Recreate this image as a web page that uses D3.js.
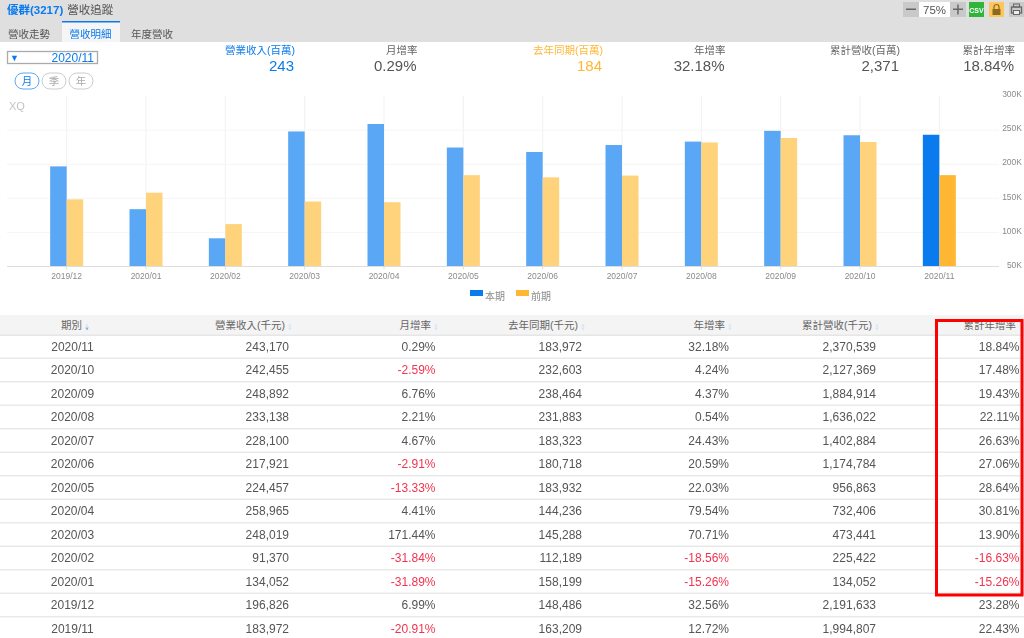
<!DOCTYPE html>
<html>
<head>
<meta charset="utf-8">
<script src="https://cdnjs.cloudflare.com/ajax/libs/d3/7.8.5/d3.min.js"></script>
<style>
  html, body { margin: 0; padding: 0; background: #fff; overflow: hidden; }
  svg { display: block; filter: blur(0.3px); }
  text { font-family: "Liberation Sans", "Noto Sans CJK TC", sans-serif; }
</style>
</head>
<body>
<svg id="page" width="1024" height="638"></svg>
<script>
const periods = ['2020/11', '2020/10', '2020/09', '2020/08', '2020/07', '2020/06', '2020/05', '2020/04', '2020/03', '2020/02', '2020/01', '2019/12', '2019/11'];
const revenue = [243170, 242455, 248892, 233138, 228100, 217921, 224457, 258965, 248019, 91370, 134052, 196826, 183972];
const monthRate = [0.29, -2.59, 6.76, 2.21, 4.67, -2.91, -13.33, 4.41, 171.44, -31.84, -31.89, 6.99, -20.91];
const lastYear = [183972, 232603, 238464, 231883, 183323, 180718, 183932, 144236, 145288, 112189, 158199, 148486, 163209];
const yearRate = [32.18, 4.24, 4.37, 0.54, 24.43, 20.59, 22.03, 79.54, 70.71, -18.56, -15.26, 32.56, 12.72];
const cumRevenue = [2370539, 2127369, 1884914, 1636022, 1402884, 1174784, 956863, 732406, 473441, 225422, 134052, 2191633, 1994807];
const cumRate = [18.84, 17.48, 19.43, 22.11, 26.63, 27.06, 28.64, 30.81, 13.90, -16.63, -15.26, 23.28, 22.43];

const chartMonths = ['2019/12', '2020/01', '2020/02', '2020/03', '2020/04', '2020/05', '2020/06', '2020/07', '2020/08', '2020/09', '2020/10', '2020/11'];
const yTicks = [50000, 100000, 150000, 200000, 250000, 300000];
const seriesKeys = ['本期', '前期'];
const tabs = ['營收走勢', '營收明細', '年度營收'];
const pills = ['月', '季', '年'];
const kpiLabels = ['營業收入(百萬)', '月增率', '去年同期(百萬)', '年增率', '累計營收(百萬)', '累計年增率'];
const kpiValues = ['243', '0.29%', '184', '32.18%', '2,371', '18.84%'];
const tableHeaders = ['期別', '營業收入(千元)', '月增率', '去年同期(千元)', '年增率', '累計營收(千元)', '累計年增率'];

const colors = {
  blue: '#0a7bef',
  blueSoft: '#5aa8f5',
  orange: '#ffb733',
  orangeSoft: '#ffd27c',
  text: '#555',
  muted: '#8a8a8a',
  red: '#f2334f',
  line: '#e9e9e9'
};

const svg = d3.select('#page');
const num = d3.format(',');
const pct = d => d.toFixed(2) + '%';

// top bar
svg.append('rect').attr('width', 1024).attr('height', 42).attr('fill', '#dfdfdf');
const title = svg.append('text').attr('x', 7).attr('y', 14).attr('font-size', 11.5);
title.append('tspan').attr('fill', colors.blue).attr('font-weight', 'bold').text('優群(3217)');
title.append('tspan').attr('fill', colors.text).attr('dx', 4).text('營收追蹤');

const tabX = d3.scalePoint().domain(tabs).range([29, 152]);
svg.append('rect').attr('x', 62).attr('y', 21).attr('width', 58).attr('height', 21).attr('fill', '#f5f5f5');
svg.append('rect').attr('x', 62).attr('y', 21).attr('width', 58).attr('height', 1.5).attr('fill', colors.blue);
svg.selectAll('.tab').data(tabs).join('text')
  .attr('class', 'tab')
  .attr('x', d => tabX(d))
  .attr('y', 38)
  .attr('text-anchor', 'middle')
  .attr('font-size', 10.5)
  .attr('fill', (d, i) => i === 1 ? colors.blue : colors.text)
  .text(d => d);

// zoom + export buttons
svg.append('rect').attr('x', 903).attr('y', 2).attr('width', 63).attr('height', 15).attr('fill', '#c9c9c9');
svg.append('rect').attr('x', 919).attr('y', 2).attr('width', 31).attr('height', 15).attr('fill', '#fff');
svg.append('rect').attr('x', 906).attr('y', 8.5).attr('width', 10).attr('height', 1.5).attr('fill', '#666');
svg.append('rect').attr('x', 953).attr('y', 8.5).attr('width', 10).attr('height', 1.5).attr('fill', '#666');
svg.append('rect').attr('x', 957.2).attr('y', 4.5).attr('width', 1.5).attr('height', 10).attr('fill', '#666');
svg.append('text').attr('x', 934.5).attr('y', 13.5).attr('text-anchor', 'middle').attr('font-size', 11.5).attr('fill', colors.text).text('75%');
svg.append('rect').attr('x', 969).attr('y', 2).attr('width', 15).attr('height', 15).attr('fill', '#2fb53a');
svg.append('text').attr('x', 976.5).attr('y', 12.5).attr('text-anchor', 'middle').attr('font-size', 7).attr('font-weight', 'bold').attr('fill', '#fff').text('CSV');
svg.append('rect').attr('x', 989).attr('y', 2).attr('width', 15).attr('height', 15).attr('fill', '#fdc65c');
svg.append('rect').attr('x', 992.5).attr('y', 9).attr('width', 8).attr('height', 6).attr('fill', '#8a6a1e');
svg.append('path').attr('d', 'M994 9V7a2.5 2.5 0 0 1 5 0v2').attr('fill', 'none').attr('stroke', '#8a6a1e').attr('stroke-width', 1.2);
svg.append('rect').attr('x', 1009).attr('y', 2).attr('width', 15).attr('height', 15).attr('fill', '#c9c9c9');
svg.append('rect').attr('x', 1011.5).attr('y', 7).attr('width', 10).attr('height', 6).attr('fill', 'none').attr('stroke', '#666').attr('stroke-width', 1.3);
svg.append('rect').attr('x', 1013.5).attr('y', 4).attr('width', 6).attr('height', 3).attr('fill', 'none').attr('stroke', '#666').attr('stroke-width', 1);
svg.append('rect').attr('x', 1013.5).attr('y', 10.5).attr('width', 6).attr('height', 4).attr('fill', '#eee').attr('stroke', '#666').attr('stroke-width', 1);

// date selector and period pills
svg.append('rect').attr('x', 7.5).attr('y', 51.5).attr('width', 90).attr('height', 12).attr('fill', '#fff').attr('stroke', '#aaa').attr('stroke-width', 1.3);
svg.append('text').attr('x', 10).attr('y', 61).attr('font-size', 9).attr('fill', colors.blue).text('▼');
svg.append('text').attr('x', 94).attr('y', 62).attr('text-anchor', 'end').attr('font-size', 12).attr('fill', colors.blue).text('2020/11');

const pillX = d3.scalePoint().domain(pills).range([27, 81]);
const pill = svg.selectAll('.pill').data(pills).join('g')
  .attr('class', 'pill')
  .attr('transform', d => `translate(${pillX(d)},81)`);
pill.append('rect')
  .attr('x', -12).attr('y', -8).attr('width', 24).attr('height', 16).attr('rx', 8)
  .attr('fill', '#fff')
  .attr('stroke', (d, i) => i === 0 ? colors.blueSoft : '#ccc');
pill.append('text')
  .attr('y', 4).attr('text-anchor', 'middle').attr('font-size', 10.5)
  .attr('fill', (d, i) => i === 0 ? colors.blue : '#aaa')
  .text(d => d);

// summary figures
const kpiRight = [295, 417.5, 603, 725.5, 900, 1015];
const kpiColor = i => i === 0 ? colors.blue : i === 2 ? colors.orange : colors.text;
kpiLabels.forEach((label, i) => {
  svg.append('text').attr('x', kpiRight[i]).attr('y', 54).attr('text-anchor', 'end')
    .attr('font-size', 10.5).attr('fill', kpiColor(i) === colors.text ? '#666' : kpiColor(i)).text(label);
  svg.append('text').attr('x', kpiRight[i] - 1).attr('y', 71).attr('text-anchor', 'end')
    .attr('font-size', 15).attr('fill', kpiColor(i)).text(kpiValues[i]);
});

// chart
const x = d3.scaleBand().domain(chartMonths).range([27, 979]);
const inner = d3.scaleBand().domain(seriesKeys).range([-16.5, 16.5]);
const y = d3.scaleLinear().domain([50000, 300000]).range([266.5, 96]);

const chartData = chartMonths.map(m => {
  const i = periods.indexOf(m);
  return { month: m, values: [revenue[i], lastYear[i]] };
});

svg.append('text').attr('x', 9).attr('y', 110).attr('font-size', 11).attr('fill', '#c4c4c4').text('XQ');

svg.append('g').selectAll('line').data(chartMonths).join('line')
  .attr('x1', d => x(d) + x.bandwidth() / 2)
  .attr('x2', d => x(d) + x.bandwidth() / 2)
  .attr('y1', 96).attr('y2', 266)
  .attr('stroke', '#f1f1f1');

svg.append('g').selectAll('line').data(yTicks.slice(1, -1)).join('line')
  .attr('x1', 7).attr('x2', 999)
  .attr('y1', d => y(d)).attr('y2', d => y(d))
  .attr('stroke', '#f5f5f5');

const group = svg.append('g').selectAll('g').data(chartData).join('g')
  .attr('transform', d => `translate(${x(d.month) + x.bandwidth() / 2},0)`);
group.selectAll('rect')
  .data((d, i) => d.values.map((v, k) => ({ v, k, latest: i === chartData.length - 1 })))
  .join('rect')
  .attr('x', d => inner(seriesKeys[d.k]))
  .attr('width', inner.bandwidth())
  .attr('y', d => y(d.v))
  .attr('height', d => y(50000) - y(d.v))
  .attr('fill', d => d.k === 0
    ? (d.latest ? colors.blue : colors.blueSoft)
    : (d.latest ? colors.orange : colors.orangeSoft));

const xAxis = svg.append('g')
  .attr('transform', `translate(0,${y(50000)})`)
  .call(d3.axisBottom(x).tickSize(3).tickPadding(3));
xAxis.select('.domain').remove();
xAxis.selectAll('line').attr('stroke', '#ddd');
xAxis.selectAll('text').attr('font-size', 8.5).attr('fill', colors.muted);
svg.append('line').attr('x1', 7).attr('x2', 999).attr('y1', y(50000)).attr('y2', y(50000)).attr('stroke', '#ddd');

const yAxis = svg.append('g')
  .attr('transform', 'translate(1022,-2)')
  .call(d3.axisLeft(y).tickValues(yTicks).tickSize(0).tickPadding(0).tickFormat(d => d / 1000 + 'K'));
yAxis.select('.domain').remove();
yAxis.selectAll('text').attr('font-size', 8.5).attr('fill', colors.muted);

// legend
const legendX = d3.scalePoint().domain(seriesKeys).range([470, 516]);
const legend = svg.selectAll('.legend').data(seriesKeys).join('g')
  .attr('class', 'legend')
  .attr('transform', d => `translate(${legendX(d)},290)`);
legend.append('rect').attr('width', 13).attr('height', 6)
  .attr('fill', (d, i) => i === 0 ? colors.blue : colors.orange);
legend.append('text').attr('x', 15).attr('y', 9.5).attr('font-size', 10).attr('fill', colors.muted).text(d => d);

// table
const rowY = d3.scaleBand().domain(periods).range([335, 335 + 23.5 * periods.length]);
const columns = [
  { right: 72.5, anchor: 'middle', values: periods, fmt: d => d },
  { right: 289, values: revenue, fmt: num },
  { right: 435.5, values: monthRate, fmt: pct, signed: true },
  { right: 582, values: lastYear, fmt: num },
  { right: 729, values: yearRate, fmt: pct, signed: true },
  { right: 876, values: cumRevenue, fmt: num },
  { right: 1019.5, values: cumRate, fmt: pct, signed: true }
];
const headerRight = [82, 285, 431, 578, 725, 872, 1016];

svg.append('rect').attr('y', 315).attr('width', 1024).attr('height', 20).attr('fill', '#f4f4f4');
svg.append('rect').attr('y', 334.5).attr('width', 1024).attr('height', 1.5).attr('fill', '#e6e6e6');

tableHeaders.forEach((h, i) => {
  svg.append('text').attr('x', headerRight[i]).attr('y', 329)
    .attr('text-anchor', 'end').attr('font-size', 10.5).attr('fill', '#666').text(h);
  const arrows = svg.append('g').attr('transform', `translate(${headerRight[i] + 5},327)`);
  arrows.append('path').attr('d', d3.symbol(d3.symbolTriangle, 5)).attr('transform', 'translate(0,-1.5)').attr('fill', '#d5e5f3');
  arrows.append('path').attr('d', d3.symbol(d3.symbolTriangle, 5)).attr('transform', 'translate(0,1.5) rotate(180)')
    .attr('fill', i === 0 ? '#7fb2e0' : '#d5e5f3');
});

svg.append('g').selectAll('rect').data(periods).join('rect')
  .attr('y', d => rowY(d) + rowY.bandwidth() - 1)
  .attr('width', 1024)
  .attr('height', 1.5)
  .attr('fill', colors.line);

columns.forEach(col => {
  svg.append('g').selectAll('text').data(col.values).join('text')
    .attr('x', col.right)
    .attr('y', (d, i) => rowY(periods[i]) + 15.5)
    .attr('text-anchor', col.anchor || 'end')
    .attr('font-size', 12)
    .attr('fill', d => col.signed && d < 0 ? colors.red : colors.text)
    .text(col.fmt);
});

// highlight box
svg.append('rect').attr('x', 936.5).attr('y', 320.5).attr('width', 85.5).attr('height', 274.5)
  .attr('fill', 'none').attr('stroke', '#f00').attr('stroke-width', 3);
</script>
</body>
</html>
